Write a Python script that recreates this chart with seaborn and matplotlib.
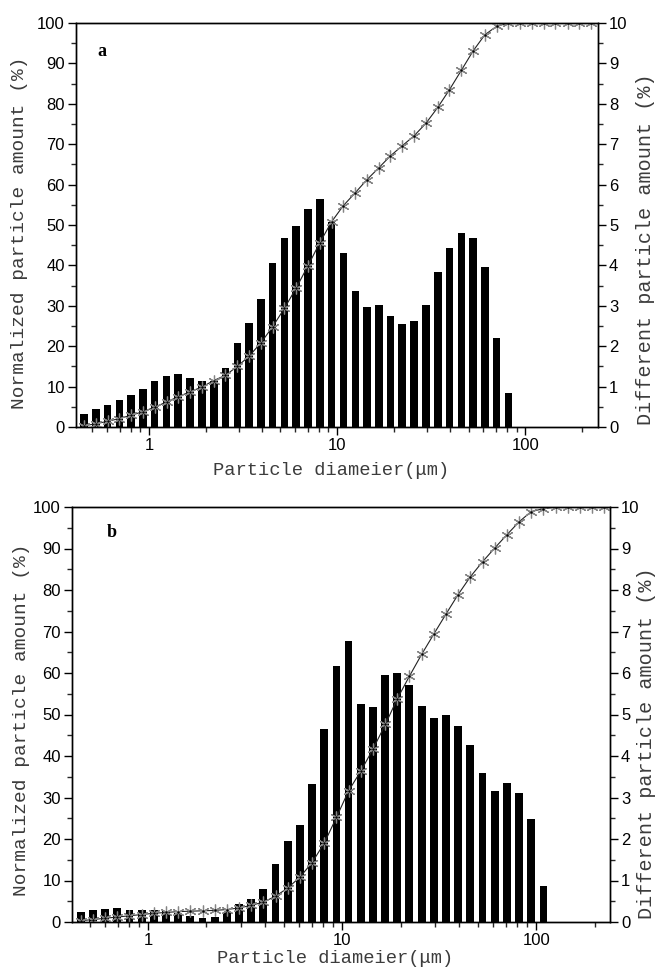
import pandas as pd
import seaborn as sns
import matplotlib.pyplot as plt
from matplotlib.ticker import MultipleLocator, LogLocator, NullFormatter, FuncFormatter

# particle diameter bins (um)
diam = [0.451, 0.521, 0.602, 0.695, 0.803, 0.928, 1.07, 1.24, 1.43, 1.65,
        1.91, 2.21, 2.55, 2.95, 3.40, 3.93, 4.54, 5.25, 6.06, 7.00,
        8.09, 9.35, 10.8, 12.5, 14.4, 16.7, 19.2, 22.2, 25.7, 29.7,
        34.3, 39.6, 45.8, 52.9, 61.1, 70.6, 81.5, 94.2, 109, 126,
        145, 168, 194, 224]

# panel a: differential (%) and cumulative (%)
bars_a = [0.33, 0.44, 0.55, 0.68, 0.78, 0.93, 1.13, 1.26, 1.31, 1.21,
          1.15, 1.13, 1.45, 2.08, 2.58, 3.16, 4.06, 4.69, 4.98, 5.39,
          5.64, 5.08, 4.30, 3.36, 2.98, 3.01, 2.74, 2.55, 2.62, 3.01,
          3.83, 4.42, 4.79, 4.69, 3.97, 2.21, 0.84]
cum_a = [0.3, 0.8, 1.4, 2.1, 2.9, 3.8, 4.9, 6.2, 7.5, 8.7,
         9.9, 11.5, 12.8, 15.0, 17.5, 20.8, 24.8, 29.4, 34.4, 39.9,
         45.6, 50.8, 54.8, 58.0, 61.2, 64.2, 67.1, 69.6, 72.1, 75.2,
         79.1, 83.5, 88.3, 93.1, 97.1, 99.2, 100, 100, 100, 100,
         100, 100, 100, 100]

# panel b
bars_b = [0.25, 0.28, 0.31, 0.33, 0.30, 0.28, 0.28, 0.26, 0.22, 0.14,
          0.10, 0.12, 0.24, 0.44, 0.55, 0.79, 1.40, 1.96, 2.34, 3.33,
          4.64, 6.17, 6.78, 5.26, 5.17, 5.96, 6.00, 5.72, 5.20, 4.92,
          5.00, 4.72, 4.26, 3.60, 3.16, 3.36, 3.10, 2.47, 0.87]
cum_b = [0.3, 0.6, 0.9, 1.2, 1.5, 1.8, 2.1, 2.3, 2.5, 2.6,
         2.7, 2.8, 3.0, 3.4, 4.0, 4.8, 6.2, 8.2, 10.8, 14.3,
         19.0, 25.2, 31.6, 36.4, 41.6, 47.6, 53.7, 59.2, 64.5, 69.4,
         74.2, 78.9, 83.2, 86.8, 90.1, 93.3, 96.4, 98.9, 99.6, 100,
         100, 100, 100, 100]

sns.set_theme(style="ticks")
plt.rcParams['font.family'] = ['Liberation Sans', 'DejaVu Sans']
plt.rcParams['axes.linewidth'] = 1.0
plt.rcParams['axes.edgecolor'] = 'black'

label_font = ['Liberation Mono', 'DejaVu Sans Mono']
label_color = '#3c3c3c'

fig = plt.figure(figsize=(6.59, 9.75), dpi=100)


def panel(rect, bars, cum, letter, letter_xy, xlim, ylab_l, ylab_r, xlab_y):
    ax = fig.add_axes(rect)
    ax.set_xscale('log')
    ax2 = ax.twinx()

    df_bar = pd.DataFrame({'d': diam[:len(bars)], 'v': bars})
    sns.barplot(data=df_bar, x='d', y='v', ax=ax2, native_scale=True,
                log_scale=(True, False), color='black', saturation=1,
                width=0.66, errorbar=None, linewidth=0)

    df_cum = pd.DataFrame({'d': diam, 'c': cum})
    sns.lineplot(data=df_cum, x='d', y='c', ax=ax, color='#222222', lw=0.8,
                 marker=(6, 2, 0), markersize=8.5, markeredgecolor='#858585',
                 markeredgewidth=0.9)
    sns.scatterplot(data=df_cum, x='d', y='c', ax=ax, color='black', s=3,
                    linewidth=0, zorder=5)

    ax.set_zorder(ax2.get_zorder() + 1)
    ax.patch.set_visible(False)

    ax.set_xlim(*xlim)
    ax.set_ylim(0, 100)
    ax2.set_ylim(0, 10)

    ax.xaxis.set_major_locator(LogLocator(base=10, numticks=10))
    ax.xaxis.set_minor_locator(LogLocator(base=10, subs=range(2, 10), numticks=20))
    ax.xaxis.set_major_formatter(FuncFormatter(lambda v, p: f"{v:g}"))
    ax.xaxis.set_minor_formatter(NullFormatter())
    ax.yaxis.set_major_locator(MultipleLocator(10))
    ax.yaxis.set_minor_locator(MultipleLocator(5))
    ax2.yaxis.set_major_locator(MultipleLocator(1))
    ax2.yaxis.set_minor_locator(MultipleLocator(0.5))

    for a in (ax, ax2):
        a.tick_params(which='major', direction='out', length=6, width=1.0,
                      labelsize=12, pad=2, colors='black')
        a.tick_params(which='minor', direction='out', length=3.5, width=1.0)
        for s in a.spines.values():
            s.set_visible(True)
            s.set_color('black')
            s.set_linewidth(1.0)
    ax.tick_params(which='both', top=False, right=False)
    ax2.tick_params(which='both', top=False, left=False, bottom=False,
                    labelbottom=False)

    ax.set_xlabel('Particle diameier(μm)', family=label_font, fontsize=13.5,
                  color=label_color)
    ax.xaxis.set_label_coords(0.489, xlab_y)
    ax.set_ylabel('Normalized particle amount (%)', family=label_font,
                  fontsize=14, color=label_color)
    ax.yaxis.set_label_coords(*ylab_l)
    ax2.set_ylabel('Different particle amount (%)', family=label_font,
                   fontsize=14.5, color=label_color, rotation=90)
    ax2.yaxis.set_label_coords(*ylab_r)
    ax2.set_xlabel('')

    ax.text(letter_xy[0], letter_xy[1], letter, transform=ax.transAxes,
            family=['Liberation Serif', 'DejaVu Serif'], fontweight='bold',
            fontsize=13, ha='left', va='baseline', color='black')
    return ax, ax2


panel([76 / 659, 1 - 427 / 975, 522 / 659, 404 / 975], bars_a, cum_a, 'a',
      (0.040, 0.918), (0.409, 244), (-0.092, 0.48), (1.073, 0.44), -0.087)
panel([72 / 659, 1 - 922 / 975, 538 / 659, 415 / 975], bars_b, cum_b, 'b',
      (0.065, 0.928), (0.406, 240), (-0.078, 0.487), (1.05, 0.43), -0.068)

fig.savefig('out.png', dpi=100)
